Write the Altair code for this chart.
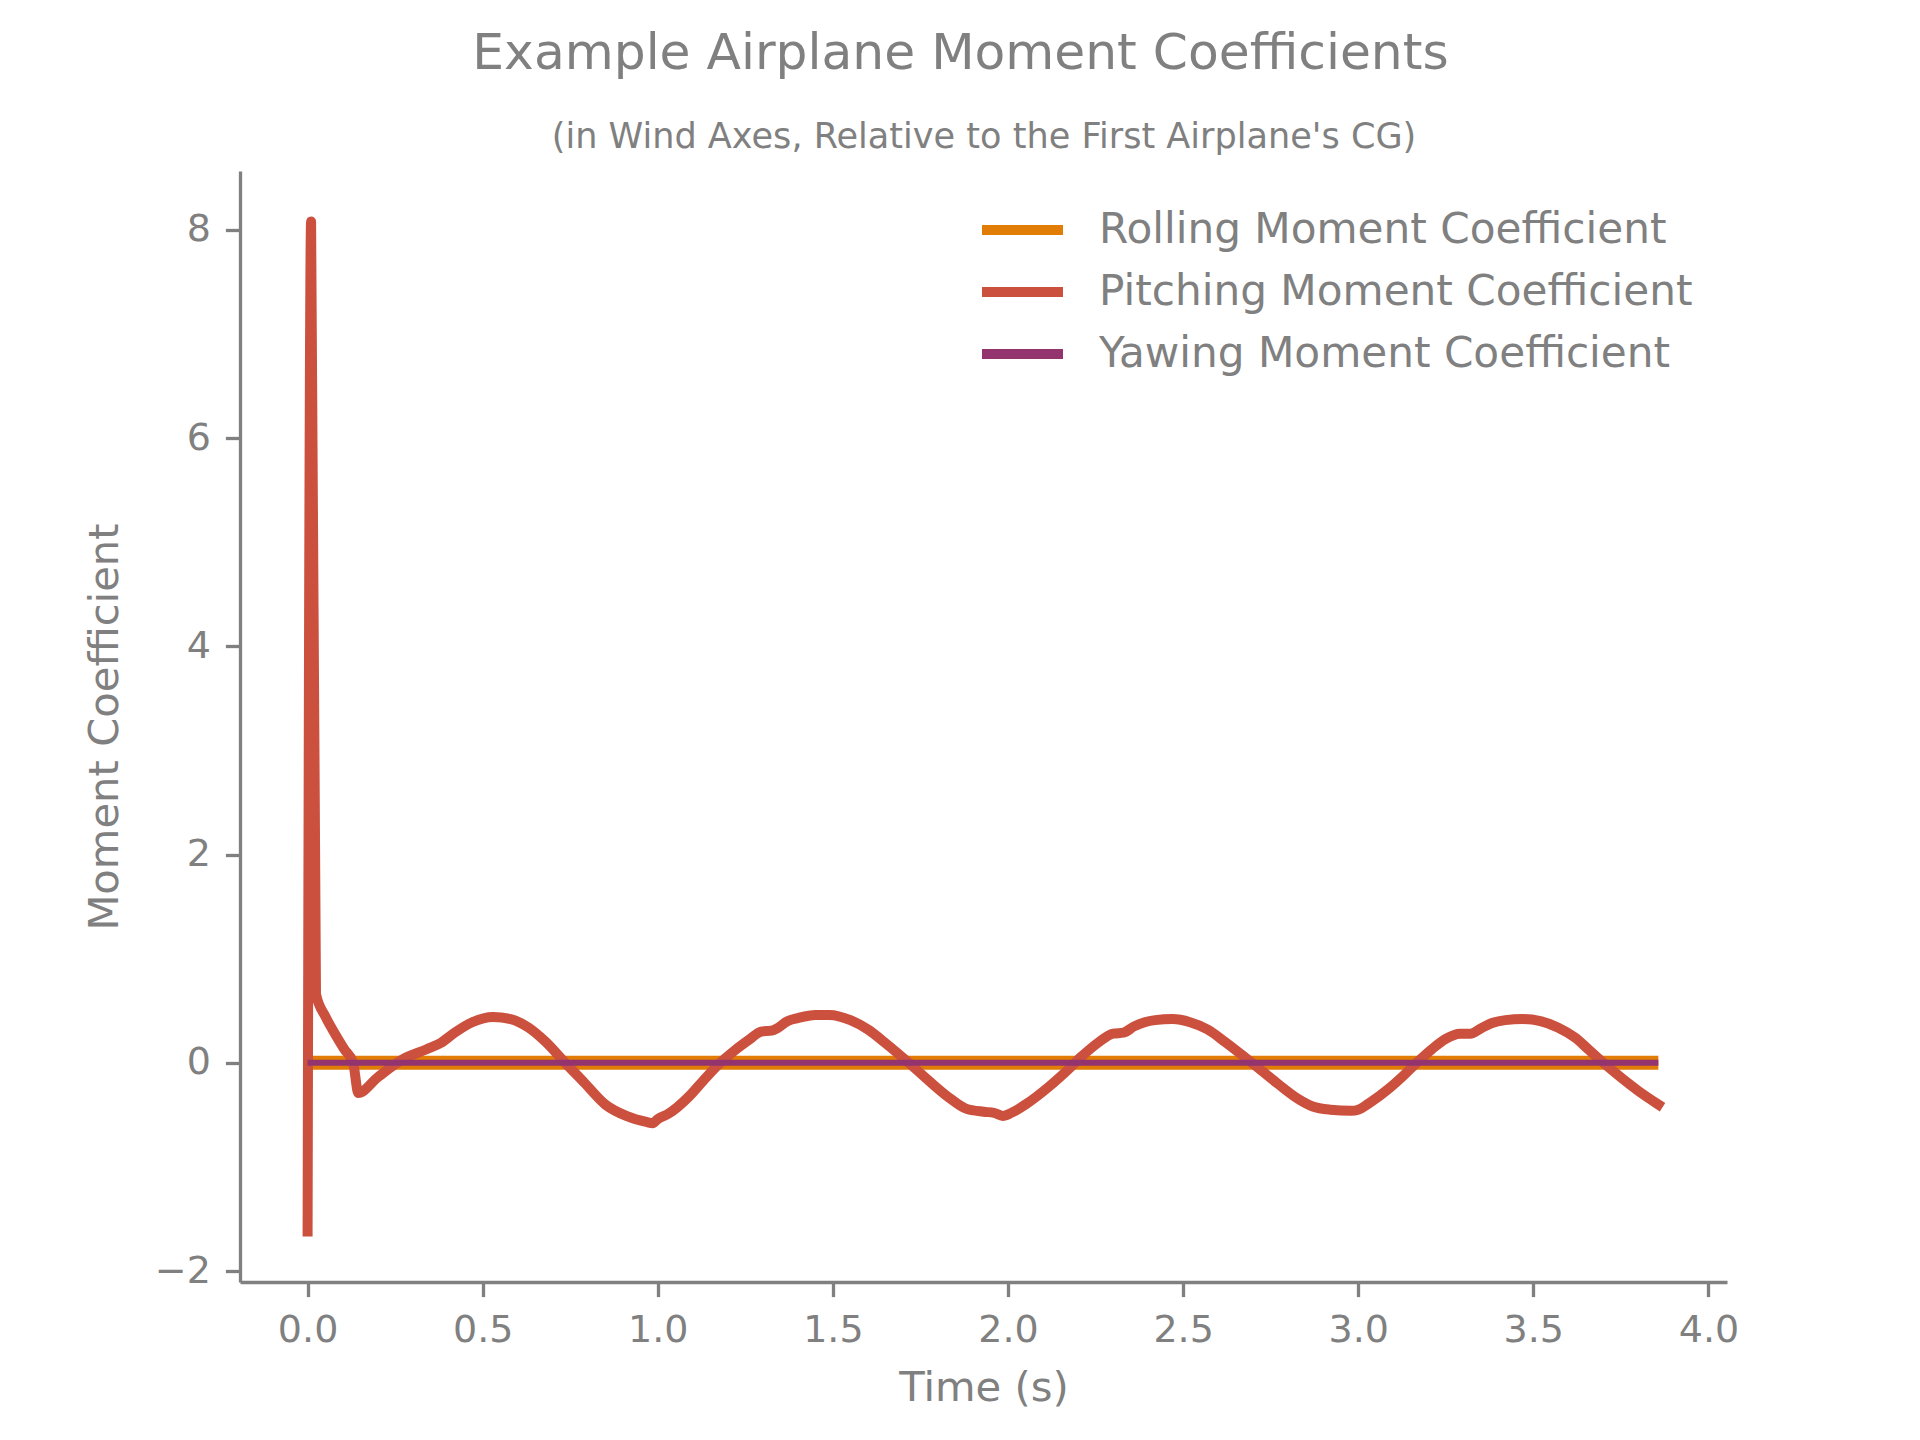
import altair as alt
import pandas as pd

# ---------------- data ----------------
series_names = ["Rolling Moment Coefficient", "Pitching Moment Coefficient", "Yawing Moment Coefficient"]
series_colors = ["#E17C05", "#CC503E", "#94346E"]

time_const = [0.0, 3.857]
rolling_values = [0.0, 0.0]
yawing_values = [0.0, 0.0]

time_pitch = [0.000, 0.010, 0.024, 0.050, 0.078, 0.105, 0.130, 0.145, 0.200, 0.270,
              0.340, 0.380, 0.420, 0.470, 0.530, 0.580, 0.630, 0.680, 0.730, 0.790,
              0.850, 0.910, 0.970, 0.985, 1.000, 1.030, 1.090, 1.130, 1.175, 1.220,
              1.260, 1.295, 1.325, 1.340, 1.370, 1.400, 1.450, 1.490, 1.550, 1.600,
              1.650, 1.710, 1.770, 1.830, 1.880, 1.930, 1.960, 1.985, 2.010, 2.050,
              2.120, 2.170, 2.210, 2.260, 2.300, 2.330, 2.360, 2.390, 2.420, 2.470,
              2.520, 2.570, 2.620, 2.670, 2.700, 2.770, 2.830, 2.870, 2.920, 2.980,
              3.000, 3.030, 3.090, 3.130, 3.170, 3.210, 3.250, 3.290, 3.320, 3.350,
              3.380, 3.420, 3.470, 3.520, 3.570, 3.620, 3.660, 3.700, 3.750, 3.800,
              3.857]
pitch_values = [-1.62, 8.08, 0.66, 0.45, 0.28, 0.13, 0.00, -0.29, -0.14, 0.03,
                0.13, 0.19, 0.29, 0.39, 0.44, 0.42, 0.34, 0.20, 0.02, -0.19,
                -0.40, -0.51, -0.57, -0.58, -0.54, -0.49, -0.32, -0.17, -0.01, 0.12,
                0.22, 0.30, 0.31, 0.33, 0.40, 0.43, 0.46, 0.46, 0.41, 0.32,
                0.19, 0.02, -0.16, -0.33, -0.44, -0.47, -0.48, -0.51, -0.48, -0.40,
                -0.22, -0.07, 0.06, 0.20, 0.28, 0.29, 0.35, 0.39, 0.41, 0.42,
                0.39, 0.32, 0.20, 0.07, -0.01, -0.20, -0.35, -0.42, -0.45, -0.46,
                -0.45, -0.39, -0.24, -0.12, 0.01, 0.13, 0.23, 0.28, 0.28, 0.33,
                0.38, 0.41, 0.42, 0.40, 0.34, 0.24, 0.12, 0.00, -0.14, -0.27,
                -0.40]

x_ticks = [0.0, 0.5, 1.0, 1.5, 2.0, 2.5, 3.0, 3.5, 4.0]
y_ticks = [-2, 0, 2, 4, 6, 8]

df_roll = pd.DataFrame({"t": time_const, "v": rolling_values, "s": series_names[0]})
df_pitch = pd.DataFrame({"t": time_pitch, "v": pitch_values, "s": series_names[1]})
df_yaw = pd.DataFrame({"t": time_const, "v": yawing_values, "s": series_names[2]})

GRAY = "#808080"
FONT = "DejaVu Sans"

xscale = alt.Scale(domain=[-0.193, 4.053], nice=False, zero=False)
yscale = alt.Scale(domain=[-2.105, 8.565], nice=False, zero=False)

legend = alt.Legend(
    title=None, orient="none", legendX=757, legendY=33.5, direction="vertical",
    symbolType="M-2,0H2", symbolSize=1640, symbolStrokeWidth=10,
    labelFontSize=42.2, labelColor=GRAY, labelFont=FONT, labelOffset=51,
    rowPadding=15, padding=0, labelLimit=1000,
)
color = alt.Color("s:N", scale=alt.Scale(domain=series_names, range=series_colors), legend=legend)

common_axis = dict(labelColor=GRAY, titleColor=GRAY, tickColor=GRAY, domainColor=GRAY,
                   labelFont=FONT, titleFont=FONT, grid=False, titleFontWeight="normal")

bottom_axis = alt.Axis(values=x_ticks, format=".1f", title="Time (s)",
                       labelFontSize=38, titleFontSize=41.7,
                       tickSize=14.6, tickWidth=3.3, domainWidth=3.3, labelPadding=15,
                       titlePadding=18, labelFlush=False, **common_axis)
top_axis = alt.Axis(orient="top", title="(in Wind Axes, Relative to the First Airplane's CG)",
                    labels=False, ticks=False, domain=False,
                    titleFontSize=35.1, titleBaseline="alphabetic",
                    titlePadding=24, **common_axis)
left_axis = alt.Axis(values=y_ticks, format="d", title="Moment Coefficient",
                     labelFontSize=38, titleFontSize=41.7,
                     tickSize=14.6, tickWidth=3.3, domainWidth=3.3, labelPadding=15,
                     titlePadding=28, labelFlush=False, **common_axis)

roll = alt.Chart(df_roll).mark_line(strokeWidth=14, strokeCap="butt").encode(
    x=alt.X("t:Q", scale=xscale, axis=bottom_axis),
    y=alt.Y("v:Q", scale=yscale, axis=left_axis),
    color=color,
)
pitch = alt.Chart(df_pitch).mark_line(strokeWidth=10, strokeCap="square", strokeJoin="round",
                                      interpolate="monotone").encode(
    x=alt.X("t:Q", scale=xscale, axis=top_axis),
    y=alt.Y("v:Q", scale=yscale, axis=None),
    color=color,
)
yaw = alt.Chart(df_yaw).mark_line(strokeWidth=6, strokeCap="butt").encode(
    x=alt.X("t:Q", scale=xscale, axis=None),
    y=alt.Y("v:Q", scale=yscale, axis=None),
    color=color,
)

chart = alt.layer(roll, pitch, yaw).resolve_axis(x="independent", y="independent").properties(
    width=1487, height=1111,
    title=alt.TitleParams("Example Airplane Moment Coefficients", fontSize=50.3, fontWeight="normal",
                          color=GRAY, font=FONT, anchor="middle", frame="group", dx=-23, offset=40),
    autosize=alt.AutoSizeParams(type="none"),
    padding={"left": 240, "top": 171, "right": 193, "bottom": 158},
    background="white",
).configure_view(stroke=None)

chart.save("out.html", embed_options={"renderer": "svg", "actions": False})
